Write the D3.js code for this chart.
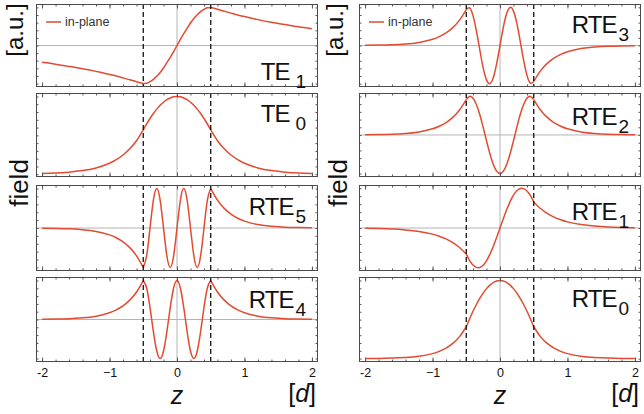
<!DOCTYPE html>
<html><head><meta charset="utf-8">
<script src="https://cdn.jsdelivr.net/npm/d3@7"></script>
<style>body{margin:0;background:#fff}svg{display:block}</style>
</head><body><svg id="c" width="644" height="414"></svg>
<script>
// ---- data ----
const zValues = [-2,-1.8,-1.6,-1.4,-1.2,-1,-0.9,-0.8,-0.7,-0.6,-0.5,
  -0.45,-0.4,-0.35,-0.3,-0.25,-0.2,-0.15,-0.1,-0.05,0,0.05,0.1,0.15,0.2,0.25,0.3,0.35,0.4,0.45,
  0.5,0.6,0.7,0.8,0.9,1,1.2,1.4,1.6,1.8,2];
const slabEdges = [-0.5, 0.5];
const xTicks = [-2,-1,0,1,2];
const xTickLabels = ["-2","\u22121","0","1","2"];
const legendLabel = "in-plane";

const te1 = [-0.44,-0.49,-0.55,-0.61,-0.68,-0.76,-0.80,-0.85,-0.90,-0.95,-1.00,
  -0.99,-0.95,-0.89,-0.81,-0.71,-0.59,-0.45,-0.31,-0.16,0,0.16,0.31,0.45,0.59,0.71,0.81,0.89,0.95,0.99,
  1.00,0.95,0.90,0.85,0.80,0.76,0.68,0.61,0.55,0.49,0.44];
const te0 = [0.009,0.015,0.027,0.047,0.081,0.142,0.187,0.247,0.327,0.431,0.570,
  0.646,0.717,0.781,0.837,0.886,0.926,0.958,0.981,0.995,1,0.995,0.981,0.958,0.926,0.886,0.837,0.781,0.717,0.646,
  0.570,0.431,0.327,0.247,0.187,0.142,0.081,0.047,0.027,0.015,0.009];
const rte5 = [-0.005,-0.011,-0.021,-0.043,-0.086,-0.174,-0.247,-0.350,-0.497,-0.705,-1,
  -0.707,0,0.707,1,0.707,0,-0.707,-1,-0.707,0,0.707,1,0.707,0,-0.707,-1,-0.707,0,0.707,
  1,0.705,0.497,0.350,0.247,0.174,0.086,0.043,0.021,0.011,0.005];
const rte4 = [0.005,0.011,0.021,0.043,0.086,0.174,0.247,0.350,0.497,0.705,1,
  0.809,0.309,-0.309,-0.809,-1,-0.809,-0.309,0.309,0.809,1,0.809,0.309,-0.309,-0.809,-1,-0.809,-0.309,0.309,0.809,
  1,0.705,0.497,0.350,0.247,0.174,0.086,0.043,0.021,0.011,0.005];
const rte3 = [0.005,0.010,0.020,0.040,0.081,0.164,0.233,0.330,0.469,0.665,0.944,
  0.986,0.782,0.383,-0.111,-0.579,-0.901,-0.998,-0.847,-0.484,0,0.484,0.847,0.998,0.901,0.579,0.111,-0.383,-0.782,-0.986,
  -0.944,-0.665,-0.469,-0.330,-0.233,-0.164,-0.081,-0.040,-0.020,-0.010,-0.005];
const rte2 = [0.005,0.010,0.020,0.039,0.079,0.160,0.226,0.321,0.456,0.647,0.918,
  0.999,0.955,0.792,0.531,0.203,-0.150,-0.485,-0.758,-0.938,-1,-0.938,-0.758,-0.485,-0.150,0.203,0.531,0.792,0.955,0.999,
  0.918,0.647,0.456,0.321,0.226,0.160,0.079,0.039,0.020,0.010,0.005];
const rte1 = [-0.008,-0.015,-0.027,-0.048,-0.086,-0.154,-0.206,-0.275,-0.368,-0.492,-0.657,
  -0.819,-0.933,-0.992,-0.993,-0.937,-0.825,-0.665,-0.466,-0.240,0,0.240,0.466,0.665,0.825,0.937,0.993,0.992,0.933,0.819,
  0.657,0.492,0.368,0.275,0.206,0.154,0.086,0.048,0.027,0.015,0.008];
const rte0 = [0.002,0.003,0.007,0.015,0.031,0.064,0.093,0.135,0.195,0.282,0.409,
  0.511,0.606,0.693,0.771,0.839,0.896,0.941,0.974,0.993,1,0.993,0.974,0.941,0.896,0.839,0.771,0.693,0.606,0.511,
  0.409,0.282,0.195,0.135,0.093,0.064,0.031,0.015,0.007,0.003,0.002];

const leftSeries = [te1, te0, rte5, rte4];
const leftNames = ["TE","TE","RTE","RTE"];
const leftSubs = ["1","0","5","4"];
const rightSeries = [rte3, rte2, rte1, rte0];
const rightNames = ["RTE","RTE","RTE","RTE"];
const rightSubs = ["3","2","1","0"];

// ---- layout ----
const W = 644, H = 414;
const FONT = "'Liberation Sans', Arial, Helvetica, sans-serif";
const RED = "#e14b32";
const rowTops = [4, 93, 185, 277];
const rowBottoms = [87, 177, 271, 362];
const labelBase = [[76,29,30,31],[29,32,35,30]];
const columns = [
  {x0:36, x1:318, series:leftSeries, names:leftNames, subs:leftSubs, yTitleX:23, fieldX:28},
  {x0:359, x1:641, series:rightSeries, names:rightNames, subs:rightSubs, yTitleX:343, fieldX:347}
];

const svg = d3.select("#c");
svg.append("rect").attr("width",W).attr("height",H).attr("fill","#fff");

columns.forEach((col, ci) => {
  const x = d3.scaleLinear().domain([-2.09, 2.09]).range([col.x0, col.x1]);
  col.series.forEach((vals, ri) => {
    const top = rowTops[ri], bot = rowBottoms[ri];
    const ext = d3.extent(vals);
    const pad = 0.045 * (ext[1] - ext[0]);
    const y = d3.scaleLinear().domain([ext[0]-pad, ext[1]+pad]).range([bot, top]);
    const g = svg.append("g");
    const cid = `clip${ci}${ri}`;
    g.append("clipPath").attr("id", cid).append("rect")
      .attr("x", col.x0).attr("y", top).attr("width", col.x1-col.x0).attr("height", bot-top);
    const inner = g.append("g").attr("clip-path", `url(#${cid})`);
    inner.append("line").attr("x1", x(0)).attr("x2", x(0)).attr("y1", top).attr("y2", bot)
      .attr("stroke", "#b4b4b4").attr("stroke-width", 1);
    if (ext[0] < 0) {
      inner.append("line").attr("x1", col.x0).attr("x2", col.x1).attr("y1", y(0)).attr("y2", y(0))
        .attr("stroke", "#b4b4b4").attr("stroke-width", 1);
    }
    const pts = zValues.map((z, i) => [z, vals[i]]);
    const segs = [
      pts.filter(p => p[0] <= slabEdges[0]),
      pts.filter(p => p[0] >= slabEdges[0] && p[0] <= slabEdges[1]),
      pts.filter(p => p[0] >= slabEdges[1])
    ];
    const line = d3.line().x(p => x(p[0])).y(p => y(p[1])).curve(d3.curveNatural);
    segs.forEach(s => inner.append("path").attr("d", line(s)).attr("fill", "none")
      .attr("stroke", RED).attr("stroke-width", 1.5).attr("stroke-linejoin","round"));
    slabEdges.forEach(e => inner.append("line").attr("x1", x(e)).attr("x2", x(e))
      .attr("y1", top).attr("y2", bot).attr("stroke", "#111").attr("stroke-width", 1.3)
      .attr("stroke-dasharray", "5,3"));
    const minor = d3.range(-20, 21, 2).map(v => v/10);
    const addAxis = (axis, tx, ty) => {
      const a = g.append("g").attr("transform", `translate(${tx},${ty})`).call(axis);
      a.select(".domain").remove();
      a.selectAll(".tick line").attr("stroke", "#555");
      a.selectAll("text").remove();
    };
    addAxis(d3.axisBottom(x).tickValues(minor).tickSize(-2.5), 0, bot);
    addAxis(d3.axisTop(x).tickValues(minor).tickSize(-2.5), 0, top);
    addAxis(d3.axisBottom(x).tickValues(xTicks).tickSize(-4.5), 0, bot);
    addAxis(d3.axisTop(x).tickValues(xTicks).tickSize(-4.5), 0, top);
    const yt = y.ticks(10);
    addAxis(d3.axisLeft(y).tickValues(yt).tickSize(-2.5), col.x0, 0);
    addAxis(d3.axisRight(y).tickValues(yt).tickSize(-2.5), col.x1, 0);
    g.append("rect").attr("x", col.x0+0.5).attr("y", top+0.5)
      .attr("width", col.x1-col.x0-1).attr("height", bot-top-1)
      .attr("fill", "none").attr("stroke", "#4a4a4a").attr("stroke-width", 1);
    const t = g.append("text").attr("x", col.x1 - 12).attr("y", top + labelBase[ci][ri])
      .attr("text-anchor", "end").attr("font-family", FONT).attr("fill", "#111");
    t.append("tspan").attr("font-size", 24).attr("letter-spacing", -1).text(col.names[ri]);
    t.append("tspan").attr("font-size", 19).attr("dy", 8)
      .attr("dx", col.names[ri] === "TE" ? 6 : 2).text(col.subs[ri]);
    if (ri === col.series.length - 1) {
      const ax = g.append("g").attr("transform", `translate(0,${bot})`)
        .call(d3.axisBottom(x).tickValues(xTicks).tickSize(0).tickPadding(6)
          .tickFormat((d, i) => xTickLabels[i]));
      ax.select(".domain").remove();
      ax.selectAll("text").attr("font-family", FONT).attr("font-size", 12.5).attr("fill", "#111");
      svg.append("text").attr("x", x(0)).attr("y", 404).attr("text-anchor", "middle")
        .attr("font-family", FONT).attr("font-size", 25).attr("font-style", "italic")
        .attr("fill", "#111").text("z");
      const dl = svg.append("text").attr("x", col.x1 - 2).attr("y", 402).attr("text-anchor", "end")
        .attr("font-family", FONT).attr("font-size", 25).attr("fill", "#111");
      dl.append("tspan").text("[");
      dl.append("tspan").attr("font-style", "italic").text("d");
      dl.append("tspan").text("]");
    }
    if (ri === 0) {
      const lx = col.x0 + 10, ly = top + 18;
      g.append("line").attr("x1", lx).attr("x2", lx + 15).attr("y1", ly).attr("y2", ly)
        .attr("stroke", RED).attr("stroke-width", 1.5);
      g.append("text").attr("x", lx + 19).attr("y", ly + 4).attr("font-family", FONT)
        .attr("font-size", 12.5).attr("fill", "#333").text(legendLabel);
    }
  });
  svg.append("text").attr("transform", `translate(${col.yTitleX},30) rotate(-90)`)
    .attr("text-anchor", "middle").attr("font-family", FONT).attr("font-size", 24)
    .attr("fill", "#111").text("[a.u.]");
  svg.append("text").attr("transform", `translate(${col.fieldX},183) rotate(-90)`)
    .attr("text-anchor", "middle").attr("font-family", FONT).attr("font-size", 26)
    .attr("fill", "#111").text("field");
});
</script>
</body></html>
